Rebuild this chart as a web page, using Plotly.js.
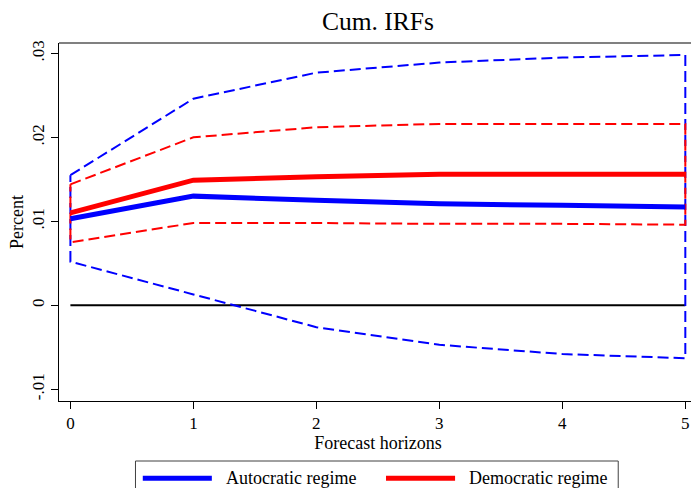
<!DOCTYPE html>
<html>
<head>
<meta charset="utf-8">
<script src="https://cdn.plot.ly/plotly-3.0.1.min.js"></script>
<style>
  html, body { margin: 0; padding: 0; background: #fff; overflow: hidden; }
  #chart { width: 697px; height: 510px; }
</style>
</head>
<body>
<div id="chart"></div>
<script>
// Forecast horizons and cumulative impulse responses with confidence bands
const horizons = [0, 1, 2, 3, 4, 5];

const autoIrf   = [0.0103, 0.0130, 0.0125, 0.0121, 0.0119, 0.0117];
const autoLower = [0.0052, 0.0013, -0.0026, -0.0047, -0.0058, -0.0063];
const autoUpper = [0.0155, 0.0246, 0.0277, 0.0289, 0.0295, 0.0298];

const demoIrf   = [0.0110, 0.0149, 0.0153, 0.0156, 0.0156, 0.0156];
const demoLower = [0.0075, 0.0098, 0.0098, 0.0097, 0.0097, 0.0096];
const demoUpper = [0.0144, 0.0200, 0.0212, 0.0216, 0.0216, 0.0216];

const yTickVals = [-0.01, 0, 0.01, 0.02, 0.03];
const yTickText = ['-.01', '0', '.01', '.02', '.03'];

const seriesNames = ['Autocratic regime', 'Democratic regime'];
const seriesColors = ['#0000ff', '#ff0000'];
const zeroLine = [0, 0, 0, 0, 0, 0];

const FONT = 'Liberation Serif, Times New Roman, serif';

// Plot area in pixels (figure is 697 wide; the window shows 691)
const W = 697, H = 510;
const M = { l: 59.3, r: 0.3, t: 42.7, b: 109.3 };
const plotW = W - M.l - M.r;
const plotH = H - M.t - M.b;
const px2paperX = px => (px - M.l) / plotW;
const px2paperY = py => (H - M.b - py) / plotH;

// Closed outline of a band: upper edge left to right, lower edge back again
function bandOutline(lower, upper) {
  const xs = horizons.concat(horizons.slice().reverse(), [horizons[0]]);
  const ys = upper.concat(lower.slice().reverse(), [upper[0]]);
  return { x: xs, y: ys };
}

const autoBand = bandOutline(autoLower, autoUpper);
const demoBand = bandOutline(demoLower, demoUpper);

const traces = [
  {
    x: horizons, y: zeroLine, mode: 'lines', showlegend: false, hoverinfo: 'skip',
    line: { color: '#000000', width: 2 }
  },
  {
    x: autoBand.x, y: autoBand.y, mode: 'lines', showlegend: false,
    line: { color: seriesColors[0], width: 2, dash: '11px,5px' }
  },
  {
    x: demoBand.x, y: demoBand.y, mode: 'lines', showlegend: false,
    line: { color: seriesColors[1], width: 2, dash: '11px,5px' }
  },
  {
    x: horizons, y: autoIrf, mode: 'lines', name: seriesNames[0], showlegend: false,
    line: { color: seriesColors[0], width: 5 }
  },
  {
    x: horizons, y: demoIrf, mode: 'lines', name: seriesNames[1], showlegend: false,
    line: { color: seriesColors[1], width: 5 }
  }
];

// Legend drawn below the axes: framed box, line keys and labels
const legendBox = { left: 135.7, right: 618, top: 460.7, bottom: 505 };
const keyRow = 478;
const keyStarts = [143, 386];
const keyLen = 69;
const labelGap = 12;

const shapes = [
  {
    type: 'line', xref: 'paper', yref: 'paper',
    x0: 0, x1: 1, y0: 1, y1: 1,
    line: { color: '#808080', width: 2 }
  },
  {
    type: 'rect', xref: 'paper', yref: 'paper',
    x0: px2paperX(legendBox.left), x1: px2paperX(legendBox.right),
    y0: px2paperY(legendBox.bottom), y1: px2paperY(legendBox.top),
    line: { color: '#404040', width: 1 }, fillcolor: 'rgba(0,0,0,0)'
  }
];
const annotations = [];
seriesNames.forEach((name, i) => {
  shapes.push({
    type: 'line', xref: 'paper', yref: 'paper',
    x0: px2paperX(keyStarts[i]), x1: px2paperX(keyStarts[i] + keyLen),
    y0: px2paperY(keyRow), y1: px2paperY(keyRow),
    line: { color: seriesColors[i], width: 5 }
  });
  annotations.push({
    xref: 'paper', yref: 'paper',
    x: px2paperX(keyStarts[i] + keyLen + labelGap), y: px2paperY(keyRow),
    xanchor: 'left', yanchor: 'middle',
    text: name, showarrow: false,
    font: { family: FONT, size: 18, color: '#000000' }
  });
});

const layout = {
  width: W,
  height: H,
  margin: { l: M.l, r: M.r, t: M.t, b: M.b, autoexpand: false },
  paper_bgcolor: '#ffffff',
  plot_bgcolor: '#ffffff',
  font: { family: FONT, size: 17, color: '#000000' },
  title: {
    text: 'Cum. IRFs',
    font: { family: FONT, size: 25.5, color: '#000000' },
    x: 0.5, xref: 'paper', xanchor: 'center',
    y: 1, yref: 'container', yanchor: 'top', pad: { t: 12 }
  },
  xaxis: {
    range: [-0.0928, 5.095],
    tickvals: horizons,
    ticktext: horizons.map(String),
    ticks: 'outside', ticklen: 7, tickwidth: 1, tickcolor: '#000000',
    showline: true, linecolor: '#000000', linewidth: 1,
    showgrid: false, zeroline: false,
    tickfont: { family: FONT, size: 17 },
    title: { text: 'Forecast horizons', font: { family: FONT, size: 18 }, standoff: 2 }
  },
  yaxis: {
    range: [-0.01139, 0.03123],
    tickvals: yTickVals,
    ticktext: yTickText,
    tickangle: -90,
    ticks: 'outside', ticklen: 7, tickwidth: 1, tickcolor: '#000000',
    showline: true, linecolor: '#000000', linewidth: 1,
    showgrid: false, zeroline: false,
    tickfont: { family: FONT, size: 17 },
    title: { text: 'Percent', font: { family: FONT, size: 18 }, standoff: 0 }
  },
  shapes: shapes,
  annotations: annotations,
  showlegend: false
};

Plotly.newPlot('chart', traces, layout, { displayModeBar: false, staticPlot: true });
</script>
</body>
</html>
